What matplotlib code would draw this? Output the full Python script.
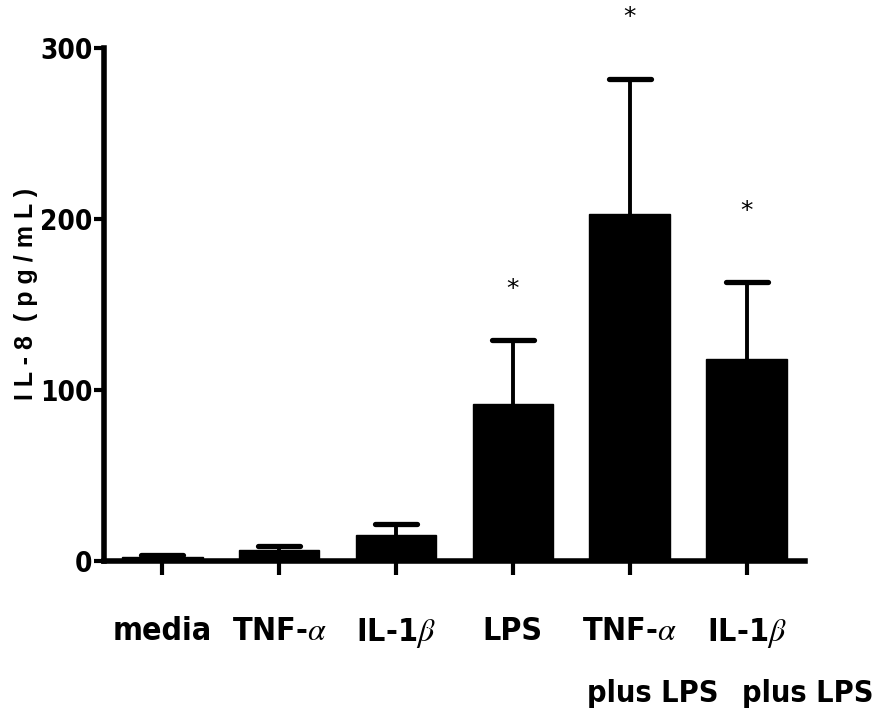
import matplotlib
matplotlib.use("Agg")
import matplotlib.pyplot as plt
import matplotlib.transforms as mtransforms
import numpy as np

plt.rcParams['font.family'] = ['DejaVu Sans']
plt.rcParams['mathtext.fontset'] = 'stix'

# data
groups = ['media', 'TNF-$\\alpha$', 'IL-1$\\beta$', 'LPS', 'TNF-$\\alpha$', 'IL-1$\\beta$']
second_line = ['', '', '', '', 'plus LPS', 'plus LPS']
il8 = [2.0, 6.5, 15.0, 92.0, 203.0, 118.0]
sem = [1.5, 2.0, 6.5, 37.0, 79.0, 45.0]
star_y = [None, None, None, 159, 318, 205]
yticks = [0, 100, 200, 300]

fig = plt.figure(figsize=(8.79, 7.19), dpi=100)
ax = fig.add_axes([0.118, 0.22, 0.798, 0.713])

x = np.arange(len(groups))
il8 = np.array(il8)
sem = np.array(sem)
ax.bar(x, il8, width=0.69, color='black', edgecolor='black', zorder=2)
# upper error bars only
ax.vlines(x, il8, il8 + sem, color='black', lw=2.8, zorder=1, clip_on=False)
ax.hlines(il8 + sem, x - 0.18, x + 0.18, color='black', lw=3.8, zorder=1,
          clip_on=False, capstyle='round')

for xi, s in zip(x, star_y):
    if s is not None:
        ax.text(xi, s, '*', ha='center', va='center', fontsize=18, clip_on=False)

ax.set_xlim(-0.5, 5.5)
ax.set_ylim(0, 300)
ax.set_xticks(x)
ax.set_xticklabels(groups, fontsize=23, fontweight='bold', fontstretch='condensed')
ax.set_yticks(yticks)
ax.set_yticklabels([str(t) for t in yticks], fontsize=20, fontweight='bold',
                   fontstretch='condensed')

# second row of the two combined labels, sits right of the bar like in the figure
trans = mtransforms.blended_transform_factory(ax.transData, ax.transAxes)
offsets = [0, 0, 0, 0, 0.2, 0.52]
for xi, lab, off in zip(x, second_line, offsets):
    if lab:
        ax.text(xi + off, -0.275, lab, transform=trans, ha='center', va='baseline',
                fontsize=22, fontweight='bold', fontstretch='condensed', clip_on=False)

ax.set_ylabel('I L - 8  ( p g / m L )', fontsize=18, fontweight='bold',
              family='Liberation Sans')
ax.yaxis.set_label_coords(-0.093, 0.52)

for side in ['top', 'right']:
    ax.spines[side].set_visible(False)
for side in ['left', 'bottom']:
    ax.spines[side].set_linewidth(4)
ax.tick_params(axis='x', length=10, width=3, pad=30)
ax.tick_params(axis='y', length=7, width=3, pad=1)

fig.savefig('out.png', dpi=100)
